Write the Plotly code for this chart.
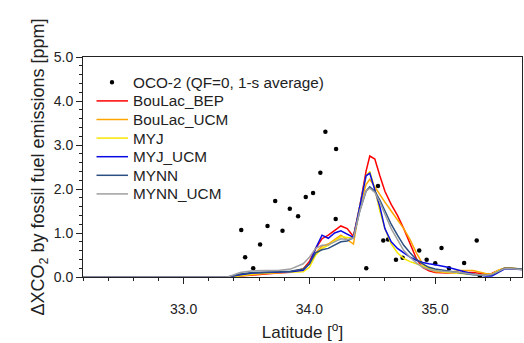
import plotly.graph_objects as go

# OCO-2 observations
oco_name = "OCO-2 (QF=0, 1-s average)"
oco_lat = [33.458, 33.489, 33.553, 33.608, 33.667, 33.728, 33.786, 33.844, 33.910, 33.971,
           34.029, 34.087, 34.127, 34.212, 34.209, 34.452, 34.545, 34.587, 34.625, 34.688,
           34.741, 34.873, 34.932, 35.000, 35.050, 35.110, 35.230, 35.330, 35.355]
oco_val = [1.07, 0.45, 0.20, 0.74, 1.16, 1.73, 1.05, 1.55, 1.38, 1.82,
           1.91, 2.37, 3.30, 2.91, 1.32, 0.20, 2.07, 0.83, 0.85, 0.39,
           0.44, 0.60, 0.39, 0.31, 0.66, 0.20, 0.32, 0.83, 0.03]

# model latitude grid
lat = [32.2, 33.35, 33.45, 33.55, 33.65, 33.75, 33.85, 33.95, 34.0, 34.05,
       34.1, 34.15, 34.2, 34.25, 34.3, 34.35, 34.4, 34.45, 34.48, 34.52,
       34.56, 34.6, 34.65, 34.7, 34.75, 34.8, 34.85, 34.9, 34.95, 35.0,
       35.1, 35.2, 35.3, 35.4, 35.45, 35.5, 35.55, 35.6, 35.7]

boulac_bep = [0, 0, 0.02, 0.05, 0.07, 0.09, 0.11, 0.18, 0.35, 0.65,
              0.87, 0.95, 1.05, 1.16, 1.10, 0.92, 1.60, 2.40, 2.75, 2.68,
              2.30, 1.95, 1.65, 1.40, 1.10, 0.75, 0.42, 0.22, 0.14, 0.10,
              0.09, 0.10, 0.10, 0.06, 0.08, 0.15, 0.20, 0.20, 0.17]
boulac_ucm = [0, 0, 0.03, 0.06, 0.08, 0.10, 0.12, 0.18, 0.30, 0.55,
              0.70, 0.75, 0.85, 0.95, 0.85, 0.75, 1.60, 2.10, 2.22, 2.05,
              1.85, 1.70, 1.50, 1.30, 1.10, 0.85, 0.55, 0.30, 0.18, 0.12,
              0.10, 0.15, 0.15, 0.08, 0.07, 0.13, 0.20, 0.20, 0.18]
myj = [0, 0, 0.03, 0.07, 0.09, 0.10, 0.11, 0.12, 0.22, 0.50,
       0.65, 0.72, 0.82, 0.92, 0.90, 0.88, 1.60, 2.30, 2.40, 2.00,
       1.50, 1.10, 0.75, 0.55, 0.42, 0.35, 0.30, 0.25, 0.20, 0.15,
       0.10, 0.08, 0.05, 0.04, 0.06, 0.15, 0.20, 0.20, 0.18]
myj_ucm = [0, 0, 0.05, 0.09, 0.10, 0.11, 0.12, 0.15, 0.30, 0.65,
           0.95, 0.88, 1.00, 1.05, 0.97, 0.90, 1.60, 2.30, 2.36, 2.00,
           1.60, 1.10, 0.80, 0.65, 0.55, 0.45, 0.38, 0.33, 0.30, 0.28,
           0.22, 0.15, 0.07, 0.02, 0.02, 0.10, 0.18, 0.18, 0.17]
mynn = [0, 0, 0.07, 0.10, 0.11, 0.12, 0.13, 0.18, 0.30, 0.55,
        0.62, 0.65, 0.72, 0.80, 0.82, 0.90, 1.50, 1.95, 2.05, 1.95,
        1.75, 1.50, 1.20, 0.95, 0.72, 0.55, 0.40, 0.30, 0.22, 0.18,
        0.14, 0.10, 0.05, 0.04, 0.05, 0.12, 0.20, 0.20, 0.18]
mynn_ucm = [0, 0, 0.10, 0.14, 0.15, 0.15, 0.18, 0.30, 0.45, 0.65,
            0.72, 0.73, 0.80, 0.87, 0.85, 0.88, 1.50, 1.95, 2.02, 1.92,
            1.70, 1.45, 1.10, 0.85, 0.60, 0.45, 0.32, 0.22, 0.17, 0.14,
            0.12, 0.10, 0.06, 0.04, 0.06, 0.13, 0.19, 0.19, 0.17]

model_names = ["BouLac_BEP", "BouLac_UCM", "MYJ", "MYJ_UCM", "MYNN", "MYNN_UCM"]
model_values = [boulac_bep, boulac_ucm, myj, myj_ucm, mynn, mynn_ucm]
model_colors = ["#ff0000", "#ffa500", "#f5e600", "#0a0ae6", "#2b4f82", "#a0a0a0"]

fig = go.Figure()
fig.add_trace(go.Scatter(x=oco_lat, y=oco_val, mode="markers", name=oco_name,
                         marker=dict(color="black", size=4.5), showlegend=False))
for name, vals, col in zip(model_names, model_values, model_colors):
    fig.add_trace(go.Scatter(x=lat, y=vals, mode="lines", name=name, showlegend=False,
                             line=dict(color=col, width=1.5)))

# ---- manual legend (pixel layout converted to paper coords) ----
L, R, T, B, W, H = 83, 2, 57, 66, 524, 343
pw, ph = W - L - R, H - T - B
def px_x(p):
    return (p - L) / pw
def px_y(p):
    return (H - B - p) / ph

legend_font = dict(family="Liberation Sans, Arial, sans-serif", size=15.3, color="#222222")
row0, dy = 82.3, 18.6
shapes = []
annotations = []
# OCO-2 dot entry
shapes.append(dict(type="circle", xref="paper", yref="paper", xsizemode="pixel", ysizemode="pixel",
                   xanchor=px_x(112), yanchor=px_y(row0), x0=-2.2, x1=2.2, y0=-2.2, y1=2.2,
                   fillcolor="black", line=dict(width=0)))
annotations.append(dict(text=oco_name, xref="paper", yref="paper", x=px_x(131), y=px_y(row0),
                        xanchor="left", yanchor="middle", showarrow=False, font=legend_font))
for i, (name, col) in enumerate(zip(model_names, model_colors)):
    yy = px_y(row0 + dy * (i + 1))
    shapes.append(dict(type="line", xref="paper", yref="paper", x0=px_x(96.5), x1=px_x(128),
                       y0=yy, y1=yy, line=dict(color=col, width=1.5)))
    annotations.append(dict(text=name, xref="paper", yref="paper", x=px_x(131), y=yy,
                            xanchor="left", yanchor="middle", showarrow=False, font=legend_font))

font = "Liberation Sans, Arial, sans-serif"
fig.update_layout(
    width=W, height=H,
    margin=dict(l=L, r=R, t=T, b=B),
    plot_bgcolor="white", paper_bgcolor="white",
    font=dict(family=font, color="#222222", size=14),
    showlegend=False,
    shapes=shapes, annotations=annotations,
    xaxis=dict(range=[32.2, 35.69], dtick=1, tick0=33, tickformat=".1f",
               showline=True, linecolor="#222222", linewidth=1, mirror=True,
               ticks="outside", ticklen=6, tickcolor="#222222", showgrid=False, zeroline=False,
               ticklabelstandoff=13,
               minor=dict(ticks="outside", dtick=0.2, tick0=0, ticklen=3, tickcolor="#222222", showgrid=False),
               title=dict(text="Latitude [<sup>o</sup>]", font=dict(size=17), standoff=10),
               tickfont=dict(size=14)),
    yaxis=dict(range=[0, 5], dtick=1, tick0=0, tickformat=".1f",
               showline=True, linecolor="#222222", linewidth=1, mirror=True,
               ticks="outside", ticklen=6, tickcolor="#222222", showgrid=False, zeroline=False,
               minor=dict(ticks="outside", dtick=0.2, tick0=0, ticklen=3, tickcolor="#222222", showgrid=False),
               title=dict(text="ΔXCO<sub>2</sub> by fossil fuel emissions [ppm]", font=dict(size=18), standoff=4),
               tickfont=dict(size=14)),
)

fig.write_html("out.html")
